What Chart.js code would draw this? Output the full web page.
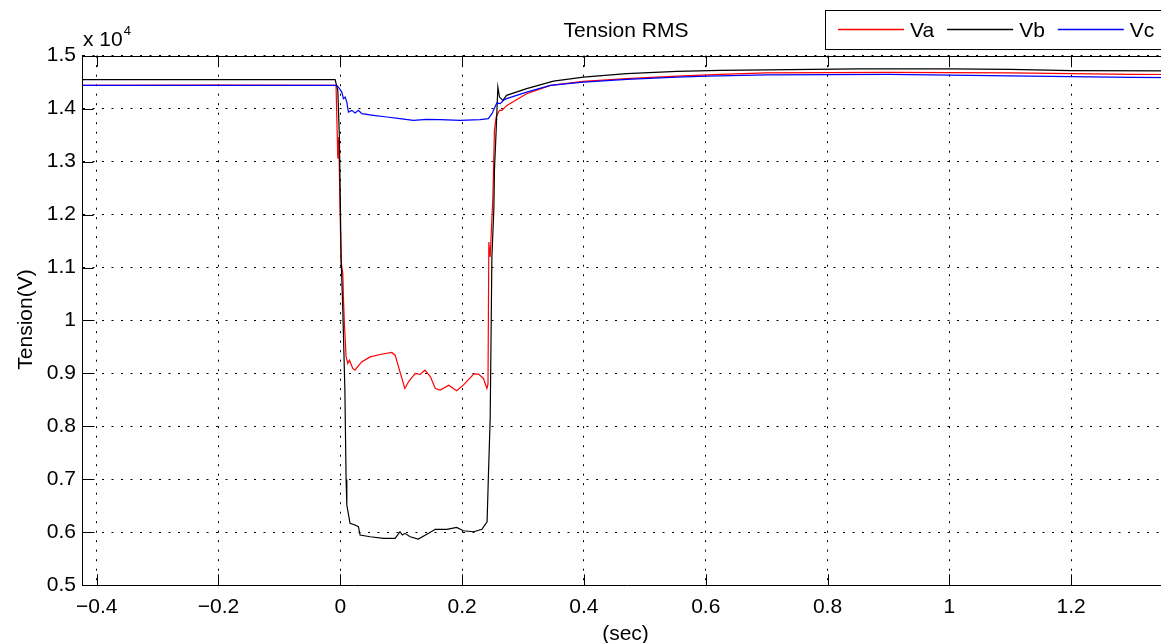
<!DOCTYPE html>
<html>
<head>
<meta charset="utf-8">
<title>Tension RMS</title>
<script src="https://cdn.jsdelivr.net/npm/chart.js@4.4.1/dist/chart.umd.min.js"></script>
<style>
  html, body { margin: 0; padding: 0; background: #fff; overflow: hidden; }
  #chart-container { position: relative; width: 1172px; height: 643px; }
</style>
</head>
<body>
<div id="chart-container"><canvas id="rmsChart"></canvas></div>
<script>
const FONT = '"Liberation Sans", Arial, Helvetica, sans-serif';

// Va (red) - time in s, RMS tension in V
const timeA = [-0.4233, -0.2, -0.007, -0.0041, -0.0025, -0.0003, 0.0013, 0.0041, 0.0051, 0.0067, 0.0095,
  0.0123, 0.0149, 0.0205, 0.024, 0.035, 0.049, 0.0654, 0.0846, 0.090, 0.098, 0.106, 0.112, 0.123, 0.131,
  0.139, 0.148, 0.156, 0.164, 0.178, 0.191, 0.202, 0.219, 0.227, 0.235, 0.2407, 0.2425, 0.2439, 0.2461,
  0.2505, 0.2531, 0.2559, 0.2614, 0.2653, 0.2735, 0.306, 0.345, 0.399, 0.47, 0.553, 0.624, 0.7, 0.9,
  1.1, 1.3, 1.3656];
const valuesA = [14440, 14445, 14440, 13057, 13464, 12019, 11106, 10887, 10445, 9943, 9313,
  9189, 9251, 9094, 9062, 9219, 9313, 9358, 9396, 9345, 9030, 8717, 8842, 9000, 8981,
  9062, 8936, 8717, 8685, 8779, 8672, 8779, 8987, 8987, 8906, 8717, 8800, 11483, 11200,
  12332, 13590, 13842, 13968, 13968, 14062, 14283, 14440, 14515, 14566, 14615, 14647, 14675, 14685,
  14675, 14647, 14645];

// Vb (black)
const timeB = [-0.4233, -0.2, -0.0085, -0.0041, -0.0015, 0.0013, 0.0041, 0.0075, 0.0095, 0.0107, 0.016,
  0.024, 0.0297, 0.0325, 0.049, 0.071, 0.090, 0.098, 0.102, 0.106, 0.1147, 0.128, 0.145, 0.156, 0.175,
  0.191, 0.202, 0.219, 0.2325, 0.241, 0.2433, 0.2461, 0.2489, 0.2522, 0.2531, 0.2559, 0.2587, 0.2614,
  0.2669, 0.273, 0.306, 0.350, 0.3993, 0.47, 0.553, 0.624, 0.7, 0.85, 1.0, 1.1, 1.2, 1.3656];
const valuesB = [14547, 14550, 14547, 14345, 13464, 11200, 10200, 8700, 7000, 6515, 6170,
  6138, 6106, 5949, 5917, 5887, 5887, 6011, 5950, 5981, 5917, 5874, 5981, 6057, 6057,
  6094, 6030, 6011, 6057, 6200, 7113, 8151, 11200, 12143, 12836, 13590, 14408, 14219,
  14157, 14251, 14377, 14521, 14596, 14660, 14704, 14723, 14732, 14751, 14751, 14740, 14720, 14715];

// Vc (blue)
const timeC = [-0.4233, -0.006, -0.0031, 0.0025, 0.0051, 0.0079, 0.0107, 0.0133, 0.0189, 0.0243, 0.0298,
  0.0353, 0.0544, 0.0764, 0.098, 0.12, 0.142, 0.164, 0.197, 0.2296, 0.243, 0.249, 0.254, 0.257, 0.2625,
  0.268, 0.273, 0.306, 0.345, 0.399, 0.4706, 0.553, 0.602, 0.7, 0.9, 1.1, 1.3, 1.3656];
const valuesC = [14440, 14440, 14408, 14313, 14189, 14219, 14125, 13936, 13968, 13917, 13968,
  13906, 13874, 13842, 13811, 13779, 13798, 13792, 13779, 13792, 13811, 13906, 14030, 14106, 14094,
  14157, 14189, 14313, 14440, 14502, 14553, 14596, 14615, 14638, 14647, 14620, 14590, 14585];

const seriesLabels = ['Va', 'Vb', 'Vc'];
const seriesColors = ['#ff0000', '#000000', '#0000ff'];

const xTickValues = [-0.4, -0.2, 0, 0.2, 0.4, 0.6, 0.8, 1, 1.2];
const xTickLabels = ['\u22120.4', '\u22120.2', '0', '0.2', '0.4', '0.6', '0.8', '1', '1.2'];
const yTickValues = [5000, 6000, 7000, 8000, 9000, 10000, 11000, 12000, 13000, 14000, 15000];
const yTickLabels = ['0.5', '0.6', '0.7', '0.8', '0.9', '1', '1.1', '1.2', '1.3', '1.4', '1.5'];

const toPoints = (ts, vs) => ts.map((t, i) => ({ x: t, y: vs[i] }));

// frame, inward ticks, title, labels and legend drawn MATLAB style
const matlabFrame = {
  id: 'matlabFrame',
  afterDraw(chart) {
    const { ctx, chartArea: a, scales } = chart;
    const px = v => Math.round(v) + 0.5;
    ctx.save();
    ctx.strokeStyle = '#000';
    ctx.lineWidth = 1;
    ctx.setLineDash([]);
    ctx.beginPath();
    ctx.moveTo(a.left, px(a.top));
    ctx.lineTo(a.right, px(a.top));
    const tl = 11;
    xTickValues.forEach(v => {
      const x = px(scales.x.getPixelForValue(v));
      ctx.moveTo(x, a.bottom); ctx.lineTo(x, a.bottom - tl);
      ctx.moveTo(x, a.top); ctx.lineTo(x, a.top + tl);
    });
    yTickValues.forEach(v => {
      const y = px(scales.y.getPixelForValue(v));
      ctx.moveTo(a.left, y); ctx.lineTo(a.left + tl, y);
      ctx.moveTo(a.right, y); ctx.lineTo(a.right - tl, y);
    });
    ctx.stroke();

    ctx.fillStyle = '#000';
    ctx.textBaseline = 'alphabetic';
    ctx.font = '21px ' + FONT;
    ctx.textAlign = 'center';
    ctx.fillText('Tension RMS', 626, 36.7);
    ctx.fillText('(sec)', 625.5, 640);

    // exponent
    ctx.textAlign = 'left';
    ctx.fillText('x 10', 83, 45.7);
    const w = ctx.measureText('x 10').width;
    ctx.font = '13px ' + FONT;
    ctx.fillText('4', 83 + w + 1, 35);

    // y axis title
    ctx.font = '21px ' + FONT;
    ctx.save();
    ctx.translate(32, 319.5);
    ctx.rotate(-Math.PI / 2);
    ctx.textAlign = 'center';
    ctx.fillText('Tension(V)', 0, 0);
    ctx.restore();

    // legend box
    ctx.fillStyle = '#fff';
    ctx.fillRect(826, 10, 360, 39);
    ctx.strokeStyle = '#000';
    ctx.strokeRect(825.5, 10.5, 360, 39);
    let lx = 838;
    const ly = 29.5;
    ctx.textAlign = 'left';
    seriesLabels.forEach((label, i) => {
      ctx.lineWidth = 1.3;
      ctx.strokeStyle = seriesColors[i];
      ctx.beginPath();
      ctx.moveTo(lx, ly);
      ctx.lineTo(lx + 66, ly);
      ctx.stroke();
      ctx.fillStyle = '#000';
      ctx.fillText(label, lx + 72, 36.7);
      lx += 72 + ctx.measureText(label).width + 13;
    });
    ctx.restore();
  }
};

const ctx = document.getElementById('rmsChart').getContext('2d');
new Chart(ctx, {
  type: 'line',
  data: {
    datasets: [
      { label: seriesLabels[0], data: toPoints(timeA, valuesA), borderColor: seriesColors[0], order: 3 },
      { label: seriesLabels[1], data: toPoints(timeB, valuesB), borderColor: seriesColors[1], order: 2 },
      { label: seriesLabels[2], data: toPoints(timeC, valuesC), borderColor: seriesColors[2], order: 1 }
    ]
  },
  options: {
    responsive: true,
    maintainAspectRatio: false,
    animation: false,
    events: [],
    layout: { padding: { top: 55.7, left: 0, right: 0, bottom: 0 } },
    elements: {
      line: { borderWidth: 1.2, tension: 0, fill: false },
      point: { radius: 0 }
    },
    plugins: {
      legend: { display: false },
      title: { display: false },
      tooltip: { enabled: false }
    },
    scales: {
      x: {
        type: 'linear',
        min: -0.4233,
        max: 1.3656,
        afterBuildTicks: scale => { scale.ticks = xTickValues.map(v => ({ value: v })); },
        afterFit: scale => { scale.height = 643 - 585.3; },
        ticks: {
          autoSkip: false,
          maxRotation: 0,
          padding: 9,
          color: '#000',
          font: { family: FONT, size: 21 },
          callback: (value, index) => xTickLabels[index]
        },
        grid: { color: '#000', lineWidth: 1, drawTicks: false },
        border: { display: true, color: '#000', width: 1, dash: [2, 7.5] }
      },
      y: {
        type: 'linear',
        min: 5000,
        max: 15000,
        afterBuildTicks: scale => { scale.ticks = yTickValues.map(v => ({ value: v })); },
        afterFit: scale => { scale.width = 82.5; },
        ticks: {
          autoSkip: false,
          padding: 6.5,
          color: '#000',
          font: { family: FONT, size: 21 },
          callback: (value, index) => yTickLabels[index]
        },
        grid: { color: '#000', lineWidth: 1, drawTicks: false },
        border: { display: true, color: '#000', width: 1, dash: [2, 7.5] }
      }
    }
  },
  plugins: [matlabFrame]
});
</script>
</body>
</html>
